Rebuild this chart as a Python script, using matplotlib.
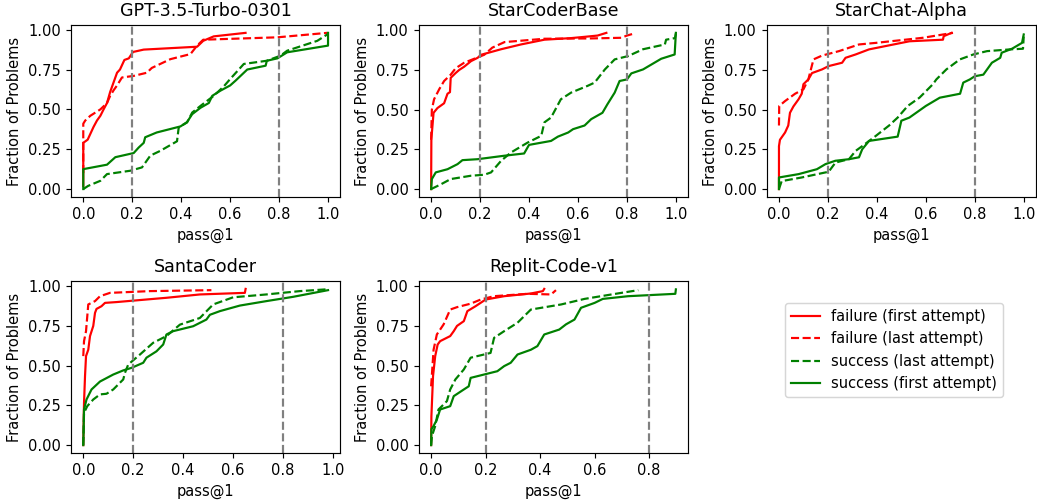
import matplotlib
matplotlib.use("Agg")
import matplotlib.pyplot as plt
from matplotlib.lines import Line2D

models = ["GPT-3.5-Turbo-0301", "StarCoderBase", "StarChat-Alpha", "SantaCoder", "Replit-Code-v1"]

# GPT-3.5-Turbo-0301
gpt_ff_x = [0, 0, 0.018, 0.042, 0.056, 0.07, 0.083, 0.097, 0.11, 0.124, 0.138, 0.15, 0.168, 0.186, 0.203, 0.247, 0.465, 0.49, 0.533, 0.663]
gpt_ff_y = [0.02, 0.29, 0.31, 0.39, 0.43, 0.46, 0.50, 0.54, 0.61, 0.67, 0.73, 0.75, 0.81, 0.82, 0.86, 0.875, 0.893, 0.93, 0.958, 0.98]
gpt_fl_x = [0, 0, 0.008, 0.029, 0.07, 0.097, 0.11, 0.124, 0.138, 0.158, 0.206, 0.26, 0.28, 0.356, 0.438, 0.465, 0.49, 0.793, 0.997]
gpt_fl_y = [0.1, 0.41, 0.43, 0.46, 0.50, 0.54, 0.585, 0.62, 0.65, 0.70, 0.71, 0.73, 0.76, 0.815, 0.847, 0.90, 0.937, 0.952, 0.98]
gpt_sl_x = [0, 0.02, 0.07, 0.097, 0.192, 0.24, 0.274, 0.315, 0.383, 0.39, 0.424, 0.445, 0.48, 0.533, 0.574, 0.60, 0.656, 0.75, 0.806, 0.833, 0.956, 1.0]
gpt_sl_y = [0, 0.02, 0.052, 0.094, 0.115, 0.136, 0.21, 0.24, 0.30, 0.387, 0.418, 0.48, 0.523, 0.585, 0.644, 0.69, 0.785, 0.805, 0.837, 0.868, 0.93, 0.973]
gpt_sf_x = [0, 0, 0.097, 0.131, 0.206, 0.226, 0.247, 0.253, 0.30, 0.397, 0.424, 0.445, 0.479, 0.513, 0.527, 0.56, 0.60, 0.622, 0.67, 0.745, 0.75, 0.793, 0.833, 1.0, 1.0]
gpt_sf_y = [0, 0.125, 0.153, 0.20, 0.226, 0.26, 0.29, 0.325, 0.355, 0.393, 0.42, 0.47, 0.51, 0.54, 0.585, 0.617, 0.65, 0.68, 0.75, 0.774, 0.805, 0.82, 0.858, 0.90, 0.98]

# StarCoderBase
scb_ff_x = [0, 0.001, 0.01, 0.026, 0.053, 0.067, 0.077, 0.08, 0.10, 0.115, 0.135, 0.163, 0.19, 0.204, 0.286, 0.367, 0.463, 0.572, 0.627, 0.68, 0.716]
scb_ff_y = [0, 0.314, 0.48, 0.51, 0.54, 0.60, 0.61, 0.70, 0.73, 0.75, 0.77, 0.805, 0.826, 0.845, 0.88, 0.91, 0.94, 0.95, 0.958, 0.966, 0.983]
scb_fl_x = [0, 0.003, 0.012, 0.033, 0.053, 0.08, 0.10, 0.135, 0.217, 0.25, 0.30, 0.463, 0.655, 0.777, 0.80, 0.825]
scb_fl_y = [0.31, 0.50, 0.565, 0.628, 0.68, 0.72, 0.76, 0.795, 0.845, 0.89, 0.925, 0.946, 0.948, 0.952, 0.966, 0.977]
scb_sl_x = [0, 0.04, 0.08, 0.163, 0.217, 0.245, 0.286, 0.326, 0.395, 0.45, 0.463, 0.49, 0.53, 0.572, 0.64, 0.668, 0.71, 0.75, 0.805, 0.866, 0.955, 0.96, 0.996, 1.0]
scb_sl_y = [0, 0.03, 0.063, 0.084, 0.09, 0.105, 0.178, 0.23, 0.293, 0.335, 0.42, 0.45, 0.565, 0.607, 0.65, 0.67, 0.753, 0.816, 0.837, 0.88, 0.91, 0.94, 0.95, 0.98]
scb_sf_x = [0, 0.003, 0.019, 0.067, 0.108, 0.128, 0.19, 0.30, 0.38, 0.40, 0.49, 0.518, 0.56, 0.58, 0.627, 0.654, 0.70, 0.72, 0.75, 0.77, 0.80, 0.818, 0.866, 0.94, 0.995, 1.0]
scb_sf_y = [0, 0.063, 0.105, 0.125, 0.157, 0.182, 0.188, 0.21, 0.224, 0.278, 0.303, 0.33, 0.356, 0.377, 0.40, 0.44, 0.48, 0.533, 0.607, 0.68, 0.69, 0.728, 0.753, 0.82, 0.847, 0.983]

# StarChat-Alpha
sca_ff_x = [0, 0, 0.004, 0.025, 0.038, 0.045, 0.059, 0.08, 0.093, 0.10, 0.12, 0.135, 0.176, 0.203, 0.258, 0.272, 0.313, 0.368, 0.533, 0.67, 0.673, 0.705]
sca_ff_y = [0, 0.27, 0.31, 0.356, 0.40, 0.48, 0.52, 0.565, 0.60, 0.66, 0.69, 0.73, 0.753, 0.774, 0.795, 0.826, 0.847, 0.879, 0.93, 0.94, 0.962, 0.983]
sca_fl_x = [0, 0.001, 0.025, 0.066, 0.10, 0.12, 0.141, 0.176, 0.245, 0.327, 0.396, 0.588, 0.711]
sca_fl_y = [0.40, 0.523, 0.554, 0.60, 0.628, 0.69, 0.816, 0.84, 0.868, 0.91, 0.92, 0.952, 0.983]
sca_sl_x = [0, 0.011, 0.093, 0.203, 0.231, 0.286, 0.313, 0.34, 0.396, 0.45, 0.485, 0.526, 0.574, 0.629, 0.643, 0.684, 0.739, 0.794, 0.85, 0.945, 0.997, 1.0]
sca_sl_y = [0, 0.05, 0.073, 0.109, 0.167, 0.188, 0.24, 0.27, 0.335, 0.40, 0.45, 0.523, 0.575, 0.66, 0.69, 0.753, 0.816, 0.847, 0.868, 0.879, 0.883, 0.96]
sca_sf_x = [0, 0, 0.08, 0.155, 0.19, 0.23, 0.286, 0.327, 0.34, 0.368, 0.485, 0.50, 0.533, 0.60, 0.657, 0.74, 0.753, 0.78, 0.80, 0.835, 0.87, 0.904, 0.91, 0.952, 0.993, 1.0]
sca_sf_y = [0, 0.073, 0.094, 0.125, 0.157, 0.178, 0.188, 0.20, 0.25, 0.303, 0.33, 0.43, 0.45, 0.523, 0.575, 0.60, 0.67, 0.69, 0.71, 0.72, 0.795, 0.826, 0.858, 0.883, 0.92, 0.973]

# SantaCoder
sc_ff_x = [0, 0.003, 0.007, 0.011, 0.02, 0.027, 0.04, 0.047, 0.053, 0.073, 0.087, 0.133, 0.333, 0.467, 0.647, 0.65]
sc_ff_y = [0, 0.266, 0.434, 0.56, 0.60, 0.686, 0.75, 0.832, 0.857, 0.874, 0.895, 0.90, 0.927, 0.948, 0.958, 0.983]
sc_fl_x = [0, 0.003, 0.011, 0.02, 0.047, 0.067, 0.107, 0.267, 0.513]
sc_fl_y = [0.56, 0.654, 0.717, 0.885, 0.906, 0.937, 0.958, 0.969, 0.975]
sc_sl_x = [0, 0.003, 0.016, 0.04, 0.067, 0.093, 0.12, 0.16, 0.167, 0.18, 0.227, 0.28, 0.333, 0.387, 0.467, 0.52, 0.60, 0.733, 0.867, 0.973]
sc_sl_y = [0, 0.203, 0.245, 0.287, 0.319, 0.323, 0.35, 0.413, 0.455, 0.507, 0.57, 0.644, 0.686, 0.758, 0.80, 0.885, 0.93, 0.948, 0.969, 0.98]
sc_sf_x = [0, 0.003, 0.013, 0.033, 0.067, 0.12, 0.16, 0.193, 0.24, 0.253, 0.293, 0.32, 0.333, 0.36, 0.44, 0.493, 0.507, 0.547, 0.627, 0.733, 0.84, 0.98]
sc_sf_y = [0, 0.224, 0.287, 0.35, 0.40, 0.444, 0.47, 0.486, 0.518, 0.55, 0.59, 0.633, 0.696, 0.717, 0.748, 0.79, 0.82, 0.843, 0.878, 0.906, 0.933, 0.975]

# Replit-Code-v1
rc_ff_x = [0, 0.001, 0.007, 0.015, 0.024, 0.033, 0.07, 0.083, 0.095, 0.12, 0.133, 0.163, 0.20, 0.268, 0.366, 0.41, 0.415]
rc_ff_y = [0, 0.18, 0.434, 0.56, 0.633, 0.654, 0.686, 0.717, 0.75, 0.78, 0.843, 0.874, 0.916, 0.937, 0.954, 0.969, 0.983]
rc_fl_x = [0, 0.009, 0.021, 0.046, 0.07, 0.095, 0.145, 0.182, 0.23, 0.354, 0.44, 0.458]
rc_fl_y = [0.37, 0.60, 0.696, 0.76, 0.853, 0.868, 0.89, 0.916, 0.937, 0.952, 0.948, 0.975]
rc_sl_x = [0, 0.003, 0.015, 0.027, 0.046, 0.058, 0.07, 0.089, 0.12, 0.145, 0.194, 0.218, 0.231, 0.268, 0.317, 0.366, 0.477, 0.563, 0.662, 0.76]
rc_sl_y = [0, 0.057, 0.12, 0.224, 0.256, 0.277, 0.35, 0.413, 0.476, 0.55, 0.57, 0.58, 0.675, 0.717, 0.77, 0.853, 0.885, 0.92, 0.948, 0.975]
rc_sf_x = [0, 0.001, 0.009, 0.021, 0.033, 0.07, 0.083, 0.12, 0.138, 0.145, 0.194, 0.243, 0.268, 0.292, 0.317, 0.366, 0.39, 0.415, 0.47, 0.495, 0.526, 0.55, 0.60, 0.63, 0.723, 0.896, 0.898]
rc_sf_y = [0, 0.10, 0.12, 0.16, 0.224, 0.245, 0.308, 0.35, 0.37, 0.423, 0.444, 0.465, 0.497, 0.518, 0.57, 0.60, 0.623, 0.696, 0.727, 0.76, 0.79, 0.864, 0.895, 0.92, 0.937, 0.952, 0.98]

curves = [
    (gpt_ff_x, gpt_ff_y, gpt_fl_x, gpt_fl_y, gpt_sl_x, gpt_sl_y, gpt_sf_x, gpt_sf_y),
    (scb_ff_x, scb_ff_y, scb_fl_x, scb_fl_y, scb_sl_x, scb_sl_y, scb_sf_x, scb_sf_y),
    (sca_ff_x, sca_ff_y, sca_fl_x, sca_fl_y, sca_sl_x, sca_sl_y, sca_sf_x, sca_sf_y),
    (sc_ff_x, sc_ff_y, sc_fl_x, sc_fl_y, sc_sl_x, sc_sl_y, sc_sf_x, sc_sf_y),
    (rc_ff_x, rc_ff_y, rc_fl_x, rc_fl_y, rc_sl_x, rc_sl_y, rc_sf_x, rc_sf_y),
]

DPI = 105
fig, axes = plt.subplots(2, 3, figsize=(1037 / DPI, 501 / DPI), dpi=DPI)
fig.subplots_adjust(left=0.0685, right=0.999, top=0.95, bottom=0.096, wspace=0.292, hspace=0.49)
axes = axes.flatten()

for i, name in enumerate(models):
    ax = axes[i]
    ffx, ffy, flx, fly, slx, sly, sfx, sfy = curves[i]
    ax.plot(ffx, ffy, color="red", linestyle="-")
    ax.plot(flx, fly, color="red", linestyle="--")
    ax.plot(slx, sly, color="green", linestyle="--")
    ax.plot(sfx, sfy, color="green", linestyle="-")
    ax.axvline(0.2, color="gray", linestyle="--")
    ax.axvline(0.8, color="gray", linestyle="--")
    ax.set_title(name)
    ax.set_xlabel("pass@1")
    ax.set_ylabel("Fraction of Problems")
    ax.set_yticks([0.0, 0.25, 0.5, 0.75, 1.0])

axes[5].axis("off")

handles = [
    Line2D([], [], color="red", linestyle="-", label="failure (first attempt)"),
    Line2D([], [], color="red", linestyle="--", label="failure (last attempt)"),
    Line2D([], [], color="green", linestyle="--", label="success (last attempt)"),
    Line2D([], [], color="green", linestyle="-", label="success (first attempt)"),
]
fig.legend(handles=handles, loc="center", bbox_to_anchor=(894 / 1037, 1 - 350 / 501))

fig.savefig("out.png", dpi=DPI)
